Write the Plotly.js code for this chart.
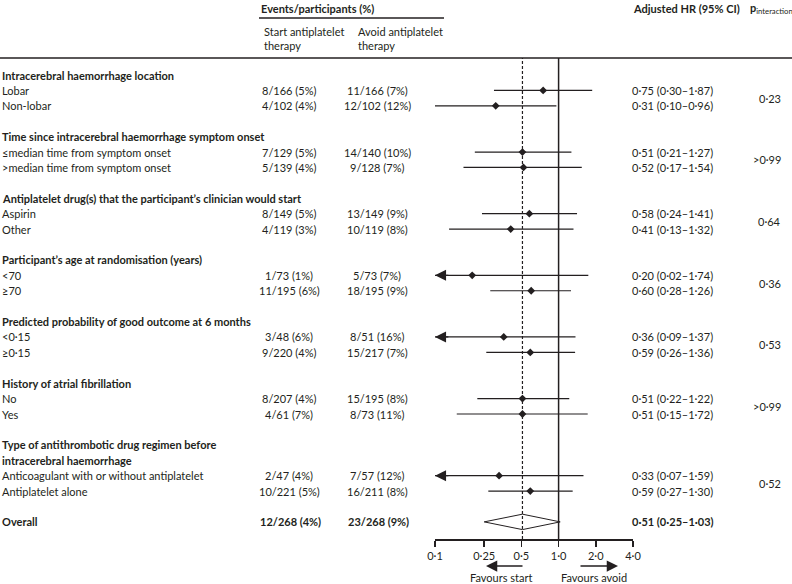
<!DOCTYPE html>
<html><head><meta charset="utf-8">
<script src="https://cdn.plot.ly/plotly-3.0.1.min.js"></script>
<style>html,body{margin:0;padding:0;background:#fff}</style>
</head><body><div id="chart" style="width:792px;height:584px"></div>
<script>
// ---- data ----
const groups = [
  "Intracerebral haemorrhage location",
  "Time since intracerebral haemorrhage symptom onset",
  "Antiplatelet drug(s) that the participant’s clinician would start",
  "Participant’s age at randomisation (years)",
  "Predicted probability of good outcome at 6 months",
  "History of atrial fibrillation",
  "Type of antithrombotic drug regimen before|intracerebral haemorrhage"
];
const subgroups = ["Lobar","Non-lobar","≤median time from symptom onset",">median time from symptom onset",
  "Aspirin","Other","<70","≥70","<0·15","≥0·15","No","Yes",
  "Anticoagulant with or without antiplatelet","Antiplatelet alone"];
const startEvents = ["8/166 (5%)","4/102 (4%)","7/129 (5%)","5/139 (4%)","8/149 (5%)","4/119 (3%)",
  "1/73 (1%)","11/195 (6%)","3/48 (6%)","9/220 (4%)","8/207 (4%)","4/61 (7%)","2/47 (4%)","10/221 (5%)"];
const avoidEvents = ["11/166 (7%)","12/102 (12%)","14/140 (10%)","9/128 (7%)","13/149 (9%)","10/119 (8%)",
  "5/73 (7%)","18/195 (9%)","8/51 (16%)","15/217 (7%)","15/195 (8%)","8/73 (11%)","7/57 (12%)","16/211 (8%)"];
const hr = [0.75,0.31,0.51,0.52,0.58,0.41,0.20,0.60,0.36,0.59,0.51,0.51,0.33,0.59];
const lo = [0.30,0.10,0.21,0.17,0.24,0.13,0.02,0.28,0.09,0.26,0.22,0.15,0.07,0.27];
const hi = [1.87,0.96,1.27,1.54,1.41,1.32,1.74,1.26,1.37,1.36,1.22,1.72,1.59,1.30];
const pInteraction = ["0·23",">0·99","0·64","0·36","0·53",">0·99","0·52"];
const overallLabel = "Overall";
const overallStart = "12/268 (4%)";
const overallAvoid = "23/268 (9%)";
const overallHR = 0.51, overallLo = 0.25, overallHi = 1.03;
const tickVals = [0.1,0.25,0.5,1,2,4];
const tickText = ["0·1","0·25","0·5","1·0","2·0","4·0"];

// ---- layout helpers ----
const W=792, H=584;
const FONT="Lato, 'Open Sans', sans-serif";
const INK="#231f20";
const ROW0=75, ROWH=15.41;
const AXMIN=0.1, AXMAX=4;
const px = x => x/W, py = y => (H-y)/H;
const fmt = v => v.toFixed(2).replace('.', '·');

const headSlots=[], itemSlots=[];
let s=0;
groups.forEach(g=>{ headSlots.push(s); s+=g.split('|').length; itemSlots.push(s, s+1); s+=3; });
const overallSlot = s;

const ann = [];
function txt(x, slot, t, opts={}) {
  ann.push(Object.assign({x:px(x), xref:'paper', y:slot, yref:'y', text:t, showarrow:false,
    xanchor:'left', yanchor:'middle', font:{family:FONT, size:11, color:INK}}, opts));
}
function ptxt(x, y, t, opts={}) {
  ann.push(Object.assign({x:px(x), xref:'paper', y:py(y), yref:'paper', text:t, showarrow:false,
    xanchor:'left', yanchor:'middle', font:{family:FONT, size:11, color:INK}}, opts));
}

// headers
ptxt(259, 8, "<b>Events/participants (%)</b>");
ptxt(262, 31, "Start antiplatelet");
ptxt(262, 45, "therapy");
ptxt(356, 31, "Avoid antiplatelet");
ptxt(356, 45, "therapy");
ptxt(631, 8, "<b>Adjusted HR (95% CI)</b>");
ptxt(748, 8, "<b>p</b><sub>interaction</sub>");

groups.forEach((g,i)=>{
  g.split('|').forEach((line,k)=> txt(0, headSlots[i]+k, "<b>"+line+"</b>"));
  const a=itemSlots[2*i], b=itemSlots[2*i+1];
  txt(783, (a+b)/2, pInteraction[i], {xanchor:'right'});
});
subgroups.forEach((sg,i)=>{
  const sl=itemSlots[i];
  txt(0, sl, sg);
  txt(289, sl, startEvents[i], {xanchor:'center'});
  txt(377, sl, avoidEvents[i], {xanchor:'center'});
  txt(630, sl, fmt(hr[i])+" ("+fmt(lo[i])+"–"+fmt(hi[i])+")");
  if (lo[i] < AXMIN) {
    ann.push({x:Math.log10(AXMIN), y:sl, xref:'x', yref:'y', ax:Math.log10(AXMIN)+0.12, ay:sl,
      axref:'x', ayref:'y', showarrow:true, arrowhead:2, arrowsize:1.7, arrowwidth:1.3,
      arrowcolor:INK, text:'', standoff:0});
  }
});
txt(0, overallSlot, "<b>"+overallLabel+"</b>");
txt(290, overallSlot, "<b>"+overallStart+"</b>", {xanchor:'center'});
txt(378, overallSlot, "<b>"+overallAvoid+"</b>", {xanchor:'center'});
txt(630, overallSlot, "<b>"+fmt(overallHR)+" ("+fmt(overallLo)+"–"+fmt(overallHi)+")</b>");

// favours arrows + labels
ann.push({x:px(486), y:py(566), xref:'paper', yref:'paper', ax:38, ay:0, showarrow:true,
  arrowhead:2, arrowsize:1.5, arrowwidth:1.5, arrowcolor:INK, text:'', standoff:0});
ann.push({x:px(618), y:py(566), xref:'paper', yref:'paper', ax:-39, ay:0, showarrow:true,
  arrowhead:2, arrowsize:1.5, arrowwidth:1.5, arrowcolor:INK, text:'', standoff:0});
ptxt(501, 577, "Favours start", {xanchor:'center'});
ptxt(594, 577, "Favours avoid", {xanchor:'center'});

// ---- traces ----
const ciX=[], ciY=[];
hr.forEach((v,i)=>{ ciX.push(Math.max(lo[i],AXMIN), hi[i], null); ciY.push(itemSlots[i], itemSlots[i], null); });
const traces = [
  {type:'scatter', mode:'lines', x:ciX, y:ciY, line:{color:INK, width:1.2}, hoverinfo:'skip', cliponaxis:false},
  {type:'scatter', mode:'markers', x:hr, y:itemSlots, marker:{symbol:'diamond', size:6, color:INK}, cliponaxis:false},
  {type:'scatter', mode:'lines', x:[overallLo, overallHR, overallHi, overallHR, overallLo],
   y:[overallSlot, overallSlot-0.5, overallSlot, overallSlot+0.5, overallSlot],
   fill:'toself', fillcolor:'rgba(255,255,255,0)', line:{color:INK, width:1}, cliponaxis:false}
];

const yTop = py(58), yAxis = py(539);
const layout = {
  width:W, height:H, margin:{l:0,r:0,t:0,b:0}, showlegend:false,
  paper_bgcolor:'#fff', plot_bgcolor:'rgba(0,0,0,0)',
  font:{family:FONT, size:11, color:INK},
  xaxis:{type:'log', range:[Math.log10(AXMIN), Math.log10(AXMAX)], domain:[px(435), px(633)],
    anchor:'free', position:yAxis, showgrid:false, zeroline:false, showline:true, linecolor:INK, linewidth:1.5,
    ticks:'outside', ticklen:6, tickwidth:1.5, tickcolor:INK, tickvals:tickVals, ticktext:tickText,
    tickfont:{family:FONT, size:11, color:INK}, fixedrange:true},
  yaxis:{range:[(H-ROW0)/ROWH, -ROW0/ROWH], domain:[0,1], visible:false, fixedrange:true},
  shapes:[
    {type:'line', xref:'paper', yref:'paper', x0:0, x1:1, y0:yTop, y1:yTop, line:{color:INK, width:1.5}},
    {type:'line', xref:'paper', yref:'paper', x0:px(259), x1:px(444), y0:py(18), y1:py(18), line:{color:INK, width:1.3}},
    {type:'line', xref:'x', yref:'paper', x0:1, x1:1, y0:yAxis, y1:yTop, line:{color:INK, width:1.5}},
    {type:'line', xref:'x', yref:'paper', x0:overallHR, x1:overallHR, y0:yAxis, y1:yTop, line:{color:INK, width:1.2, dash:'3px,2px'}}
  ],
  annotations:ann
};
Plotly.newPlot('chart', traces, layout, {staticPlot:true, displayModeBar:false});
</script></body></html>
